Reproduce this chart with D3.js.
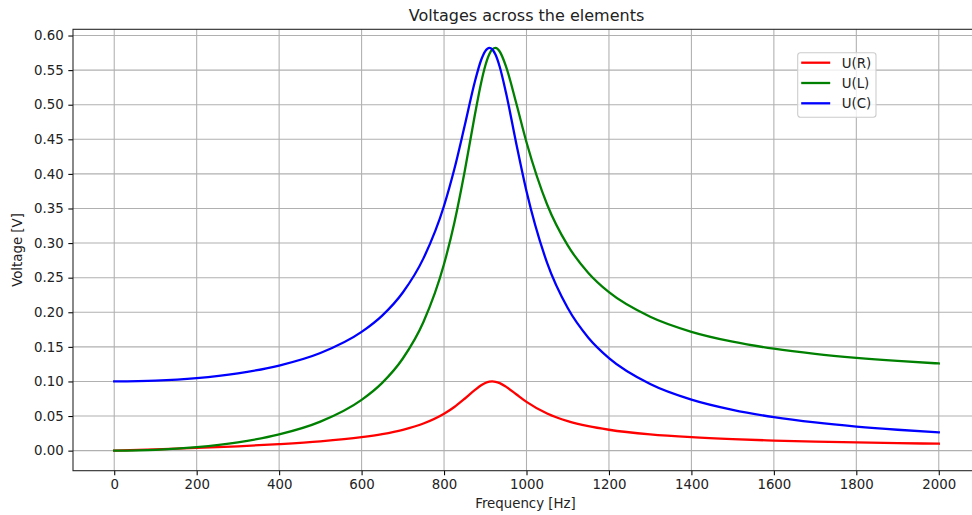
<!DOCTYPE html>
<html>
<head>
<meta charset="utf-8">
<script src="https://cdn.jsdelivr.net/npm/d3@7"></script>
<style>
    body { margin: 0; background: #fff; }
    text { font-family: "DejaVu Sans", sans-serif; }
</style>
</head>
<body>
<div id="myChart"></div>
<script>
// frequency samples [Hz] and voltages [V]
let freq = [0, 100, 200, 300, 400, 500, 600, 650, 700, 750, 800, 825, 850, 875, 890, 900, 910, 917, 925,
    935, 950, 975, 1000, 1050, 1100, 1150, 1200, 1300, 1400, 1500, 1600, 1700, 1800, 1900, 2000];
let uR = [0, 0.0019, 0.0039, 0.0063, 0.0093, 0.0133, 0.0194, 0.0239, 0.0301, 0.0392, 0.0533, 0.0631, 0.0750,
    0.0878, 0.0945, 0.0977, 0.0996, 0.1000, 0.0995, 0.0976, 0.0925, 0.0815, 0.0705, 0.0536, 0.0426, 0.0353,
    0.0302, 0.0235, 0.0194, 0.0166, 0.0146, 0.0130, 0.0118, 0.0108, 0.0100];
let uL = [0, 0.0012, 0.0050, 0.0120, 0.0234, 0.0419, 0.0734, 0.0980, 0.1332, 0.1859, 0.2697, 0.3294, 0.4034,
    0.4861, 0.5319, 0.5563, 0.5733, 0.5800, 0.5821, 0.5769, 0.5559, 0.5024, 0.4458, 0.3558, 0.2966, 0.2569,
    0.2290, 0.1935, 0.1718, 0.1575, 0.1473, 0.1398, 0.1341, 0.1296, 0.1260];
let uC = [0.1000, 0.1012, 0.1049, 0.1118, 0.1230, 0.1411, 0.1716, 0.1952, 0.2286, 0.2779, 0.3540, 0.4070, 0.4695,
    0.5339, 0.5646, 0.5775, 0.5822, 0.5800, 0.5721, 0.5549, 0.5180, 0.4444, 0.3749, 0.2714, 0.2061, 0.1633,
    0.1338, 0.0963, 0.0737, 0.0589, 0.0484, 0.0407, 0.0348, 0.0302, 0.0265];

let seriesNames = ['U(R)', 'U(L)', 'U(C)'];
let seriesColors = ['#ff0000', '#008000', '#0000ff'];
let xTicks = d3.range(0, 2001, 200);
let yTicks = d3.range(0, 0.6001, 0.05);

let series = [uR, uL, uC].map((vals, i) => ({
    name: seriesNames[i],
    color: seriesColors[i],
    points: vals.map((v, j) => ({ f: freq[j], v: v })),
}));

let margin = { top: 29.3, right: -8, bottom: 44.3, left: 73 };
let fullW = 972, fullH = 515;
let width = fullW - margin.left - margin.right;
let height = fullH - margin.top - margin.bottom;

let root = d3.select('#myChart')
    .append('svg')
    .attr('width', fullW)
    .attr('height', fullH);

let svg = root.append('g')
    .attr('transform', 'translate(' + margin.left + ',' + margin.top + ')');

let x = d3.scaleLinear().domain([-100, 2100]).range([0, width]);
let y = d3.scaleLinear().domain([-0.029, 0.609]).range([height, 0]);

// grid
svg.append('g')
    .selectAll('line')
    .data(xTicks)
    .enter()
    .append('line')
    .attr('x1', (d) => x(d)).attr('x2', (d) => x(d))
    .attr('y1', 0).attr('y2', height)
    .attr('stroke', '#b0b0b0')
    .attr('stroke-width', 1.07);

svg.append('g')
    .selectAll('line')
    .data(yTicks)
    .enter()
    .append('line')
    .attr('y1', (d) => y(d)).attr('y2', (d) => y(d))
    .attr('x1', 0).attr('x2', width)
    .attr('stroke', '#b0b0b0')
    .attr('stroke-width', 1.07);

// curves
let line = d3.line()
    .x((d) => x(d.f))
    .y((d) => y(d.v))
    .curve(d3.curveMonotoneX);

svg.selectAll('.curve')
    .data(series)
    .enter()
    .append('path')
    .attr('class', 'curve')
    .attr('d', (d) => line(d.points))
    .attr('fill', 'none')
    .attr('stroke', (d) => d.color)
    .attr('stroke-width', 2.3)
    .attr('stroke-linejoin', 'round')
    .attr('stroke-linecap', 'square');

// axes
let xAxis = svg.append('g')
    .attr('transform', 'translate(0,' + height + ')')
    .call(d3.axisBottom(x).tickValues(xTicks).tickFormat(d3.format('d'))
        .tickSize(4.67).tickPadding(4.67).tickSizeOuter(0));

let yAxis = svg.append('g')
    .call(d3.axisLeft(y).tickValues(yTicks).tickFormat(d3.format('.2f'))
        .tickSize(4.67).tickPadding(4.67).tickSizeOuter(0));

[xAxis, yAxis].forEach((a) => {
    a.select('.domain').remove();
    a.selectAll('.tick line').attr('stroke', '#000').attr('stroke-width', 1.07);
    a.selectAll('.tick text')
        .style('font-family', '"DejaVu Sans", sans-serif')
        .style('font-size', '13.33px')
        .attr('fill', '#222');
});

// frame
svg.append('rect')
    .attr('x', 0).attr('y', 0)
    .attr('width', width).attr('height', height)
    .attr('fill', 'none')
    .attr('stroke', '#222')
    .attr('stroke-width', 1.07);

// title and labels
svg.append('text')
    .attr('x', width / 2)
    .attr('y', -8)
    .style('text-anchor', 'middle')
    .style('font-size', '16px')
    .attr('fill', '#222')
    .text('Voltages across the elements');

svg.append('text')
    .attr('x', x(1000) - 1)
    .attr('y', height + 37.5)
    .style('text-anchor', 'middle')
    .style('font-size', '13.33px')
    .attr('fill', '#222')
    .text('Frequency [Hz]');

svg.append('text')
    .attr('transform', 'rotate(-90)')
    .attr('x', -(y(0.29)))
    .attr('y', -51)
    .style('text-anchor', 'middle')
    .style('font-size', '13.33px')
    .attr('fill', '#222')
    .text('Voltage [V]');

// legend
let legend = svg.append('g')
    .attr('transform', 'translate(' + (797.7 - margin.left) + ',' + (52.7 - margin.top) + ')');

legend.append('rect')
    .attr('width', 78.3)
    .attr('height', 64.6)
    .attr('rx', 2.7)
    .attr('fill', '#fff')
    .attr('fill-opacity', 0.8)
    .attr('stroke', '#cccccc')
    .attr('stroke-width', 1.07);

let items = legend.selectAll('.item')
    .data(series)
    .enter()
    .append('g')
    .attr('class', 'item')
    .attr('transform', (d, i) => 'translate(0,' + (10 + i * 20.3) + ')');

items.append('line')
    .attr('x1', 3.5).attr('x2', 32.5)
    .attr('stroke', (d) => d.color)
    .attr('stroke-width', 2.3);

items.append('text')
    .attr('x', 44)
    .attr('dy', '0.36em')
    .style('font-size', '13.33px')
    .attr('fill', '#222')
    .text((d) => d.name);
</script>
</body>
</html>
